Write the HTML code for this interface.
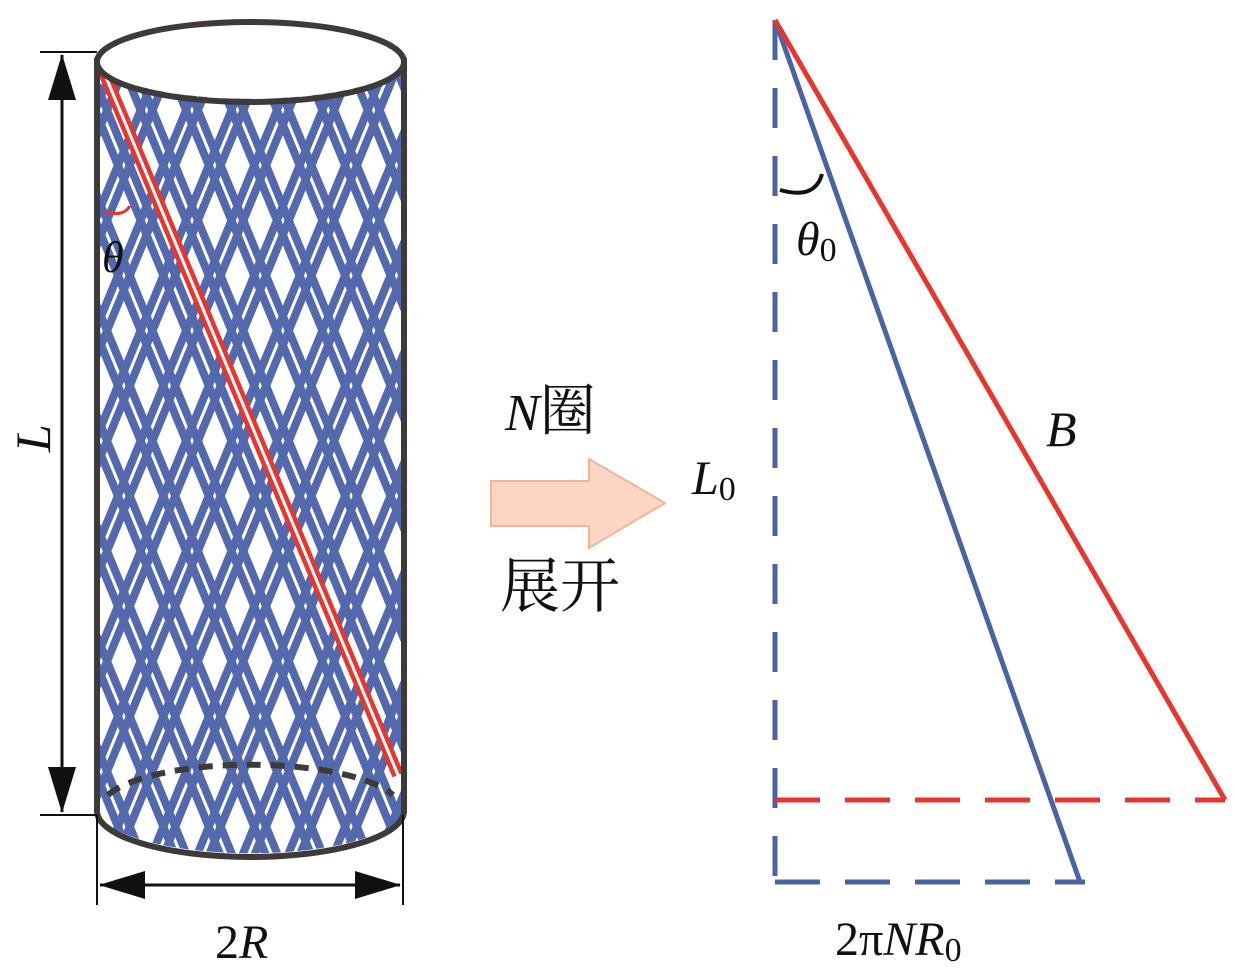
<!DOCTYPE html>
<html><head><meta charset="utf-8"><style>
html,body{margin:0;padding:0;background:#fff}
svg{display:block}
text{font-family:"Liberation Serif","Noto Serif CJK SC",serif;fill:#111}
</style></head><body>
<svg width="1234" height="969" viewBox="0 0 1234 969" xmlns="http://www.w3.org/2000/svg">
<defs>
<pattern id="p1" width="42" height="20" patternUnits="userSpaceOnUse" patternTransform="rotate(-22.4)">
<rect x="0" y="0" width="8" height="20" fill="#5468ad"/><rect x="11" y="0" width="8" height="20" fill="#5468ad"/>
</pattern>
<pattern id="p2" width="42" height="20" patternUnits="userSpaceOnUse" patternTransform="rotate(22.4)">
<rect x="0" y="0" width="8" height="20" fill="#5468ad"/><rect x="11" y="0" width="8" height="20" fill="#5468ad"/>
</pattern>
<clipPath id="cyl"><path d="M97 62 A154 40 0 0 0 404 62 L404 811 A154 46 0 0 1 97 811 Z"/></clipPath>
</defs>
<g clip-path="url(#cyl)">
<rect x="90" y="20" width="320" height="860" fill="url(#p1)"/>
<rect x="90" y="20" width="320" height="860" fill="url(#p2)"/>
<path d="M103 70 L398 775" stroke="#e8352e" stroke-width="12" fill="none"/>
<path d="M103 70 L398 775" stroke="#fff" stroke-width="3" fill="none"/>
</g>
<path d="M105 211 Q122 218 130 206" stroke="#e8352e" stroke-width="3" fill="none"/>
<text x="102" y="272" font-size="44" font-style="italic">θ</text>
<ellipse cx="250.5" cy="62" rx="153.5" ry="40" fill="none" stroke="#3f3a3a" stroke-width="6"/>
<line x1="97" y1="58" x2="97" y2="812" stroke="#3f3a3a" stroke-width="6"/>
<line x1="404" y1="58" x2="404" y2="812" stroke="#3f3a3a" stroke-width="6"/>
<path d="M97 811 A153.5 46 0 0 0 404 811" fill="none" stroke="#3f3a3a" stroke-width="6"/>
<path d="M108 795 A150 44 0 0 1 393 795" fill="none" stroke="#3f3a3a" stroke-width="6" stroke-dasharray="14 10"/>
<line x1="40" y1="52" x2="97" y2="52" stroke="#111" stroke-width="2"/>
<line x1="40" y1="815" x2="97" y2="815" stroke="#111" stroke-width="2"/>
<line x1="62" y1="55" x2="62" y2="812" stroke="#111" stroke-width="3"/>
<path d="M62 54 L48 100 L76 100 Z" fill="#111"/>
<path d="M62 813 L48 767 L76 767 Z" fill="#111"/>
<text x="0" y="0" font-size="50" font-style="italic" transform="translate(50 452) rotate(-90)">L</text>
<line x1="97" y1="815" x2="97" y2="905" stroke="#111" stroke-width="2"/>
<line x1="403" y1="815" x2="403" y2="905" stroke="#111" stroke-width="2"/>
<line x1="100" y1="885" x2="400" y2="885" stroke="#111" stroke-width="3"/>
<path d="M99 885 L145 871 L145 899 Z" fill="#111"/>
<path d="M401 885 L355 871 L355 899 Z" fill="#111"/>
<text x="215" y="958" font-size="48">2<tspan font-style="italic">R</tspan></text>
<path d="M491 481 L589 481 L589 459 L665 503 L589 548 L589 526 L491 526 Z" fill="#fbd6c4" stroke="#f2b597" stroke-width="2"/>
<text x="505" y="430" font-size="52"><tspan font-style="italic">N</tspan><tspan font-family="Noto Serif CJK SC,serif" font-size="56">圈</tspan></text>
<text x="500" y="607" font-size="60" font-family="Noto Serif CJK SC,serif">展开</text>
<line x1="775" y1="20" x2="775" y2="882" stroke="#4a64a3" stroke-width="5" stroke-dasharray="40 28"/>
<line x1="775" y1="800" x2="1225" y2="800" stroke="#e8352e" stroke-width="5" stroke-dasharray="45 25"/>
<line x1="775" y1="882" x2="1085" y2="882" stroke="#4a64a3" stroke-width="5" stroke-dasharray="45 25"/>
<line x1="775" y1="20" x2="1080" y2="882" stroke="#4a64a3" stroke-width="5"/>
<line x1="775" y1="20" x2="1225" y2="800" stroke="#e8352e" stroke-width="5"/>
<path d="M780 190 Q815 200 822 174" stroke="#111" stroke-width="4" fill="none"/>
<text x="796" y="255" font-size="48" font-style="italic">θ<tspan font-style="normal" font-size="34" dy="6">0</tspan></text>
<text x="692" y="494" font-size="48" font-style="italic">L<tspan font-style="normal" font-size="34" dy="6">0</tspan></text>
<text x="1046" y="446" font-size="50" font-style="italic">B</text>
<text x="835" y="955" font-size="48">2π<tspan font-style="italic">NR</tspan><tspan font-size="34" dy="6">0</tspan></text>
</svg>
</body></html>
